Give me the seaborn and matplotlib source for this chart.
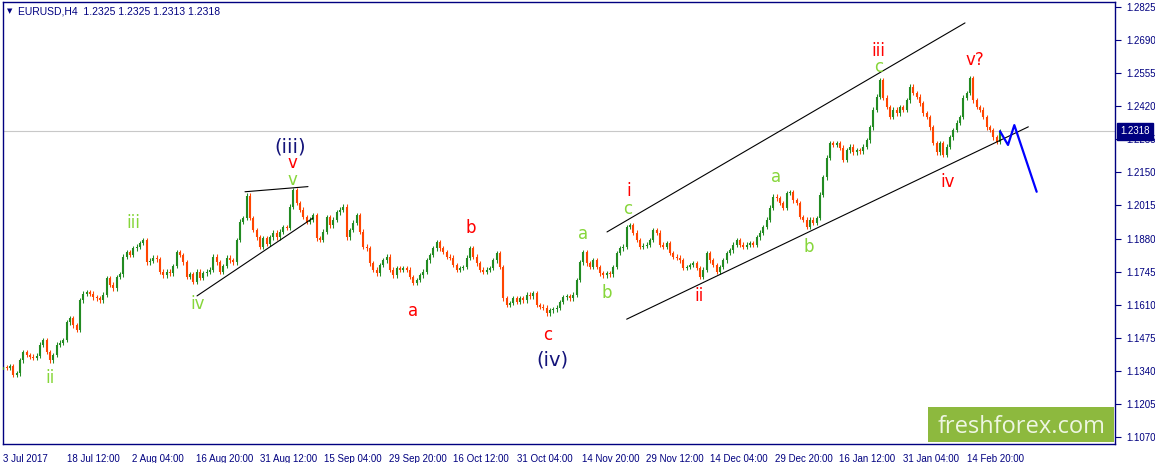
import numpy as np
import pandas as pd
import matplotlib
matplotlib.use("Agg")
import matplotlib.pyplot as plt
import seaborn as sns
from matplotlib.patches import Rectangle
from matplotlib.transforms import blended_transform_factory

# ---------------- data ----------------
symbol_title = "EURUSD,H4  1.2325 1.2325 1.2313 1.2318"
first_open = 1.1345

closes_jul_aug = [
    1.1356, 1.1352, 1.1360, 1.1323, 1.1331, 1.1384, 1.1417, 1.1405, 1.1397, 1.1393,
    1.1401, 1.1446, 1.1466, 1.1417, 1.1384, 1.1405, 1.1446, 1.1454, 1.1466, 1.1539,
    1.1556, 1.1527, 1.1507, 1.1629, 1.1654, 1.1662, 1.1654, 1.1641, 1.1637, 1.1629,
    1.1650, 1.1719, 1.1691, 1.1678, 1.1723, 1.1735, 1.1805, 1.1825, 1.1813, 1.1841,
    1.1846, 1.1862, 1.1874, 1.1784, 1.1790, 1.1801, 1.1796, 1.1744, 1.1731, 1.1744,
    1.1739, 1.1768, 1.1825, 1.1813, 1.1784, 1.1723, 1.1735, 1.1703, 1.1744, 1.1719,
    1.1739, 1.1744, 1.1752, 1.1805, 1.1784, 1.1744, 1.1768, 1.1801, 1.1792, 1.1784,
    1.1874, 1.1948, 1.1964, 1.2054, 1.1964, 1.1915, 1.1886, 1.1846, 1.1882, 1.1858,
    1.1886, 1.1903, 1.1886, 1.1907, 1.1927, 1.1923, 1.2009, 1.2078, 1.2025, 1.1997,
]
closes_sep_oct = [
    1.1968, 1.1948, 1.1956, 1.1976, 1.1882, 1.1874, 1.1907, 1.1968, 1.1935, 1.1956,
    1.1988, 1.1997, 1.2009, 1.1886, 1.1915, 1.1944, 1.1976, 1.1907, 1.1846, 1.1840,
    1.1780, 1.1752, 1.1739, 1.1772, 1.1792, 1.1805, 1.1752, 1.1731, 1.1760, 1.1752,
    1.1760, 1.1752, 1.1723, 1.1699, 1.1711, 1.1731, 1.1744, 1.1792, 1.1813, 1.1841,
    1.1866, 1.1841, 1.1825, 1.1805, 1.1801, 1.1772, 1.1752, 1.1760, 1.1764, 1.1801,
    1.1841, 1.1805, 1.1780, 1.1752, 1.1744, 1.1752, 1.1760, 1.1792, 1.1821, 1.1764,
    1.1637, 1.1609, 1.1617, 1.1637, 1.1621, 1.1637, 1.1629, 1.1650, 1.1645, 1.1658,
    1.1609, 1.1601, 1.1597, 1.1576, 1.1588, 1.1592, 1.1597, 1.1621, 1.1641, 1.1645,
    1.1637, 1.1650, 1.1711, 1.1784, 1.1825, 1.1780, 1.1764,
]
closes_nov_dec = [
    1.1792, 1.1764, 1.1739, 1.1731, 1.1739, 1.1735, 1.1764, 1.1821, 1.1841, 1.1846,
    1.1927, 1.1935, 1.1903, 1.1874, 1.1846, 1.1850, 1.1854, 1.1874, 1.1915, 1.1903,
    1.1854, 1.1846, 1.1862, 1.1821, 1.1805, 1.1801, 1.1792, 1.1760, 1.1764, 1.1772,
    1.1780, 1.1760, 1.1723, 1.1752, 1.1821, 1.1792, 1.1772, 1.1744, 1.1764, 1.1792,
    1.1821, 1.1833, 1.1854, 1.1874, 1.1854, 1.1846, 1.1854, 1.1862, 1.1854, 1.1886,
    1.1903, 1.1927, 1.1956, 1.2005, 1.2050, 1.2045, 1.2025, 1.2005, 1.2066, 1.2070,
    1.2037, 1.2025, 1.1968, 1.1956, 1.1927, 1.1956, 1.1944, 1.1964, 1.2058, 1.2131,
    1.2209, 1.2270, 1.2262, 1.2270, 1.2250, 1.2201, 1.2241, 1.2254, 1.2233, 1.2241,
    1.2237, 1.2254, 1.2282, 1.2335, 1.2405,
]
closes_jan_feb = [
    1.2458, 1.2527, 1.2454, 1.2417, 1.2376, 1.2405, 1.2392, 1.2417, 1.2405, 1.2445,
    1.2499, 1.2474, 1.2458, 1.2433, 1.2392, 1.2376, 1.2335, 1.2270, 1.2233, 1.2270,
    1.2221, 1.2254, 1.2294, 1.2323, 1.2352, 1.2376, 1.2454, 1.2474, 1.2535, 1.2445,
    1.2417, 1.2405, 1.2376, 1.2335, 1.2323, 1.2294, 1.2274, 1.2318,
]

date_labels = ["3 Jul 2017", "18 Jul 12:00", "2 Aug 04:00", "16 Aug 20:00",
               "31 Aug 12:00", "15 Sep 04:00", "29 Sep 20:00", "16 Oct 12:00",
               "31 Oct 04:00", "14 Nov 20:00", "29 Nov 12:00", "14 Dec 04:00",
               "29 Dec 20:00", "16 Jan 12:00", "31 Jan 04:00", "14 Feb 20:00"]
price_ticks = [1.1070, 1.1205, 1.1340, 1.1475, 1.1610, 1.1745, 1.1880,
               1.2015, 1.2150, 1.2285, 1.2420, 1.2555, 1.2690, 1.2825]
last_price = 1.2318

# forecast (blue) path: bar index / price
proj_bars = [299, 301.4, 303.3, 310]
proj_prices = [1.2318, 1.2262, 1.2343, 1.2071]

# black trend lines: (bar0, price0, bar1, price1)
trend_lines = [
    (72.5, 1.2071, 91.4, 1.2092),
    (58.1, 1.1646, 92.9, 1.1964),
    (181.1, 1.1907, 288.5, 1.2760),
    (187.0, 1.1551, 307.5, 1.2336),
]

# wave labels: text, bar, price, colour, size
NAVY_L, RED_L, GRN_L = "#14147a", "#ff0000", "#86d63a"
wave_labels = [
    ("(iii)", 86.0, 1.2254, NAVY_L, 14),
    ("v", 86.6, 1.2188, RED_L, 12),
    ("v", 86.6, 1.2119, GRN_L, 12),
    ("iii", 38.9, 1.1944, GRN_L, 12),
    ("iv", 58.4, 1.1613, GRN_L, 12),
    ("ii", 14.0, 1.1311, GRN_L, 12),
    ("a", 122.9, 1.1584, RED_L, 12),
    ("b", 140.3, 1.1923, RED_L, 12),
    ("c", 163.4, 1.1486, RED_L, 12),
    ("(iv)", 164.6, 1.1384, NAVY_L, 14),
    ("a", 173.9, 1.1899, GRN_L, 12),
    ("b", 181.1, 1.1658, GRN_L, 12),
    ("i", 187.7, 1.2074, RED_L, 12),
    ("c", 187.4, 1.1999, GRN_L, 12),
    ("ii", 208.7, 1.1646, RED_L, 12),
    ("a", 231.8, 1.2131, GRN_L, 12),
    ("b", 241.7, 1.1846, GRN_L, 12),
    ("iii", 262.4, 1.2647, RED_L, 12),
    ("c", 262.7, 1.2580, GRN_L, 12),
    ("iv", 283.4, 1.2111, RED_L, 12),
    ("v?", 291.5, 1.2609, RED_L, 12),
]

# ---------------- build candles ----------------
closes = closes_jul_aug + closes_sep_oct + closes_nov_dec + closes_jan_feb
df = pd.DataFrame({"bar": np.arange(len(closes)), "close": closes})
df["open"] = [first_open] + closes[:-1]
df["up"] = df["close"] >= df["open"]
df["lo"] = df[["open", "close"]].min(axis=1)
df["hi"] = df[["open", "close"]].max(axis=1)

# ---------------- figure ----------------
W, H = 1155, 463
sns.set_theme(style="white")
plt.rcParams['font.family'] = ['Liberation Sans', 'DejaVu Sans']

NAVY = "#000080"
GREEN = "#228b22"
ORANGE = "#ff4500"

fig = plt.figure(figsize=(W / 100, H / 100), dpi=100)
fig.patch.set_facecolor("white")
ax = fig.add_axes([3 / W, 19 / H, 1112 / W, 442 / H])
ax.set_facecolor("white")

ax.axhline(last_price, color="#c8c8c8", lw=0.8, zorder=0)

colors = np.where(df["up"], GREEN, ORANGE)
wick = 0.0010
ax.vlines(df["bar"], df["lo"] - wick, df["hi"] + wick, colors=colors, lw=0.75, zorder=2)
body_hi = np.maximum(df["hi"], df["lo"] + 0.00025)
ax.vlines(df["bar"], df["lo"], body_hi, colors=colors, lw=1.5, zorder=3)

for b0, p0, b1, p1 in trend_lines:
    ax.plot([b0, b1], [p0, p1], color="black", lw=0.8, zorder=4)

sns.lineplot(x=proj_bars, y=proj_prices, ax=ax, color="#0000ff", lw=1.6,
             sort=False, zorder=5)

for txt, b, p, c, s in wave_labels:
    ax.text(b, p, txt, color=c, fontsize=s, ha="center", va="center",
            family=["DejaVu Sans"], zorder=6)

ax.set_xlim(-0.1, 333.5)
ax.set_ylim(1.10416, 1.28454)

tick_pos = [-0.1 + 19.29 * j for j in range(len(date_labels))]
ax.set_xticks(tick_pos)
ax.set_xticklabels(date_labels)
for lab in ax.get_xticklabels():
    lab.set_ha("left")
ax.yaxis.tick_right()
ax.set_yticks(price_ticks)
ax.set_yticklabels([f"{v:.4f}" for v in price_ticks])
ax.tick_params(axis="both", direction="out", length=4, width=0.8, color=NAVY,
               labelcolor=NAVY, labelsize=7, pad=2)
ax.tick_params(axis="y", pad=4)
ax.tick_params(axis="x", pad=3)
for sp in ax.spines.values():
    sp.set_color(NAVY)
    sp.set_linewidth(1.0)
ax.set_xlabel("")
ax.set_ylabel("")

# current price tag on right axis
trans = blended_transform_factory(ax.transAxes, ax.transData)
ax.annotate(f"{last_price:.4f}", xy=(1.0, last_price), xycoords=trans,
            xytext=(4, 0), textcoords="offset points", ha="left", va="center",
            color="white", fontsize=7,
            bbox=dict(boxstyle="square,pad=0.35", fc=NAVY, ec=NAVY),
            zorder=10, annotation_clip=False)

# header
fig.text(18 / W, 1 - 11 / H, symbol_title, color=NAVY, fontsize=7.5,
         ha="left", va="center")
fig.text(10 / W, 1 - 11 / H, "\u25bc", color=NAVY, fontsize=5,
         ha="center", va="center", family=["DejaVu Sans"])

# logo
fig.add_artist(Rectangle((928 / W, 1 - 442 / H), 186 / W, 35 / H,
                         transform=fig.transFigure, fc="#8db93e", ec="none",
                         zorder=20))
fig.text(1022 / W, 1 - 433 / H, "freshforex.com", color="#eef6e2",
         fontsize=17, ha="center", va="baseline", family=["Open Sans"],
         zorder=21)

fig.savefig("out.png", dpi=100)
